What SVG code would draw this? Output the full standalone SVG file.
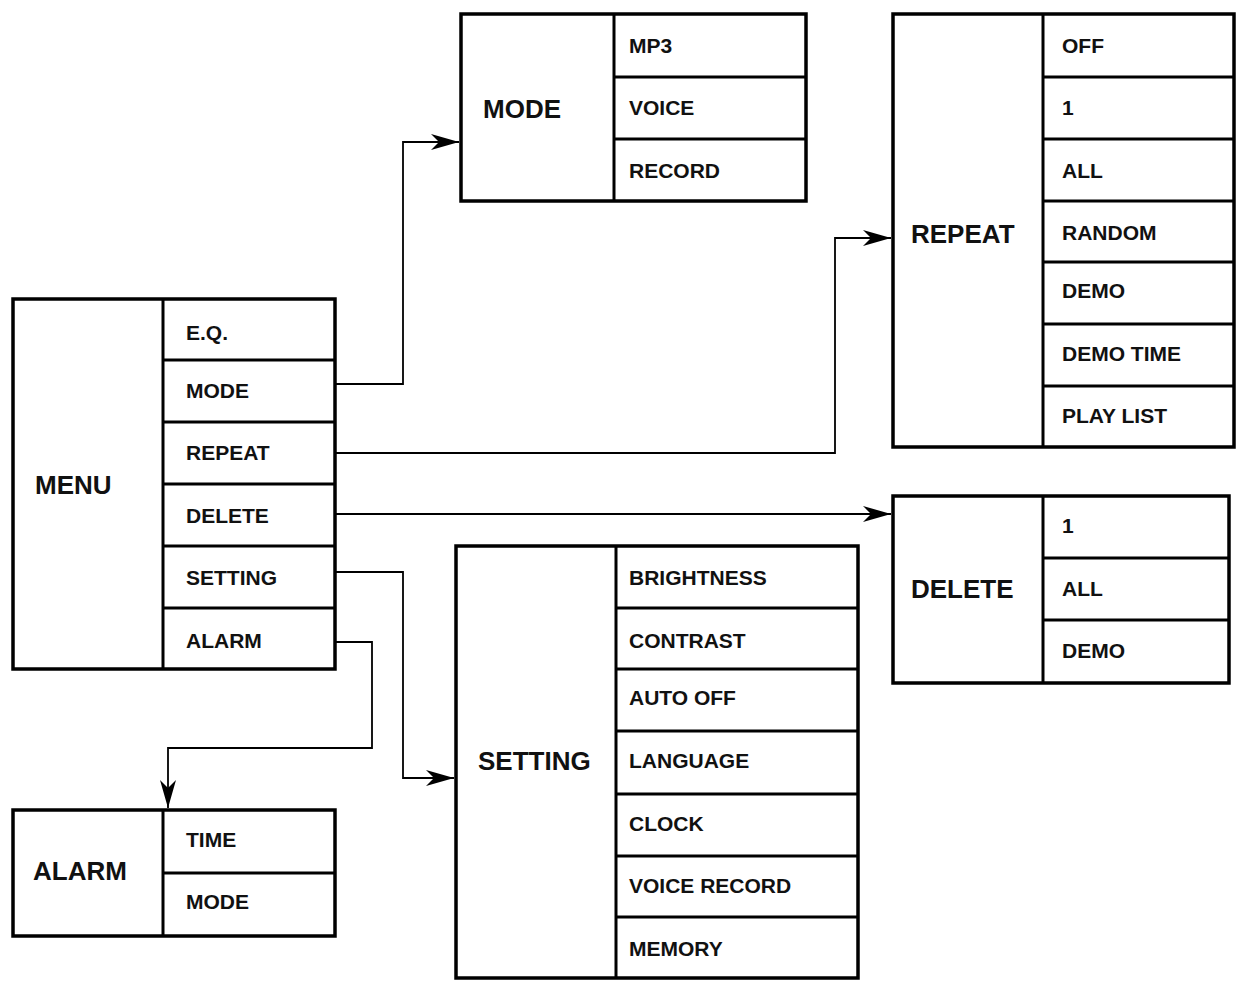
<svg xmlns="http://www.w3.org/2000/svg" width="1243" height="982" viewBox="0 0 1243 982">
<style>
.b{fill:none;stroke:#000;stroke-width:3.5}
.l{fill:none;stroke:#000;stroke-width:3}
.c{fill:none;stroke:#000;stroke-width:1.8}
text{font-family:"Liberation Sans",Arial,sans-serif;font-weight:bold;font-size:21px;fill:#111}
.t{font-size:26px}
</style>
<defs><marker id="a" markerWidth="30" markerHeight="20" refX="28" refY="10" orient="auto" markerUnits="userSpaceOnUse"><path d="M0,2 L28,10 L0,18 L8,10 Z" fill="#000"/></marker></defs>
<rect width="1243" height="982" fill="#fff"/>
<g id="connectors">
<path class="c" d="M335,384 H403 V142 H459" marker-end="url(#a)"/>
<path class="c" d="M335,453 H835 V238 H891" marker-end="url(#a)"/>
<path class="c" d="M335,514 H891" marker-end="url(#a)"/>
<path class="c" d="M335,572 H403 V778 H454" marker-end="url(#a)"/>
<path class="c" d="M335,642 H372 V748 H168 V808" marker-end="url(#a)"/>
</g>
<g id="menu">
<rect class="b" x="13" y="299" width="322" height="370"/>
<path class="l" d="M163,299V669M163,360H335M163,422H335M163,484H335M163,546H335M163,608H335"/>
<text class="t" x="35" y="494">MENU</text>
<text x="186" y="340">E.Q.</text><text x="186" y="398">MODE</text><text x="186" y="460">REPEAT</text><text x="186" y="523">DELETE</text><text x="186" y="585">SETTING</text><text x="186" y="648">ALARM</text>
</g>
<g id="mode">
<rect class="b" x="461" y="14" width="345" height="187"/>
<path class="l" d="M614,14V201M614,77H806M614,139H806"/>
<text class="t" x="483" y="118">MODE</text>
<text x="629" y="53">MP3</text><text x="629" y="115">VOICE</text><text x="629" y="178">RECORD</text>
</g>
<g id="repeat">
<rect class="b" x="893" y="14" width="341" height="433"/>
<path class="l" d="M1043,14V447M1043,77H1234M1043,139H1234M1043,201H1234M1043,262H1234M1043,324H1234M1043,386H1234"/>
<text class="t" x="911" y="243">REPEAT</text>
<text x="1062" y="53">OFF</text><text x="1062" y="115">1</text><text x="1062" y="178">ALL</text><text x="1062" y="240">RANDOM</text><text x="1062" y="298">DEMO</text><text x="1062" y="361">DEMO TIME</text><text x="1062" y="423">PLAY LIST</text>
</g>
<g id="delete">
<rect class="b" x="893" y="496" width="336" height="187"/>
<path class="l" d="M1043,496V683M1043,558H1229M1043,620H1229"/>
<text class="t" x="911" y="598">DELETE</text>
<text x="1062" y="533">1</text><text x="1062" y="596">ALL</text><text x="1062" y="658">DEMO</text>
</g>
<g id="setting">
<rect class="b" x="456" y="546" width="402" height="432"/>
<path class="l" d="M616,546V978M616,608H858M616,669H858M616,731H858M616,794H858M616,856H858M616,917H858"/>
<text class="t" x="478" y="770">SETTING</text>
<text x="629" y="585">BRIGHTNESS</text><text x="629" y="648">CONTRAST</text><text x="629" y="705">AUTO OFF</text><text x="629" y="768">LANGUAGE</text><text x="629" y="831">CLOCK</text><text x="629" y="893">VOICE RECORD</text><text x="629" y="956">MEMORY</text>
</g>
<g id="alarm">
<rect class="b" x="13" y="810" width="322" height="126"/>
<path class="l" d="M163,810V936M163,873H335"/>
<text class="t" x="33" y="880">ALARM</text>
<text x="186" y="847">TIME</text><text x="186" y="909">MODE</text>
</g>
</svg>
